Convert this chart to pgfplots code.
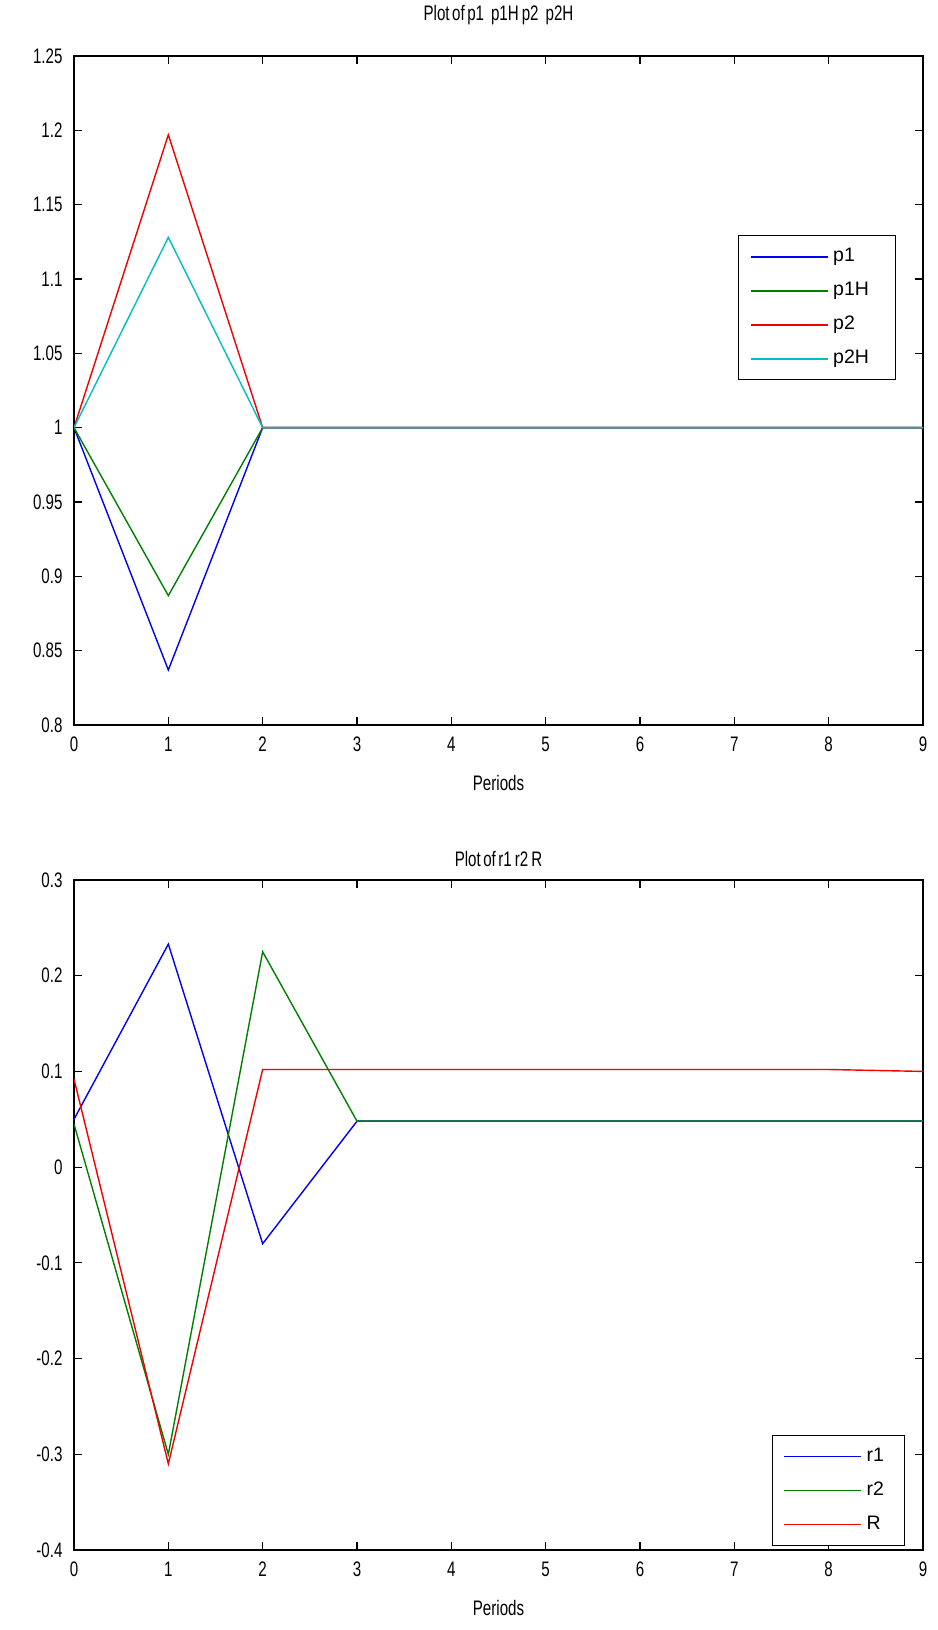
\documentclass[border=0pt]{standalone}
\usepackage{fontspec}
\setmainfont{Liberation Sans}[FakeStretch=0.72]
\newfontfamily\legfont{Liberation Sans}
\usepackage{pgfplots}
\pgfplotsset{compat=1.18}
\definecolor{mblue}{rgb}{0,0,0.95}
\definecolor{mgreen}{rgb}{0,0.5,0}
\definecolor{mred}{rgb}{0.95,0,0}
\definecolor{mcyan}{rgb}{0,0.75,0.75}
\newcommand{\fs}{\fontsize{21}{24}\selectfont}
\newcommand{\fl}{\legfont\fontsize{19.5}{22}\selectfont}
\newcommand{\lt}[1]{\makebox[51pt][l]{#1}}
\newcommand{\lb}[1]{\makebox[27pt][l]{#1}}
\pgfplotsset{
  mstyle/.style={
    scale only axis, width=849pt,
    xmin=0, xmax=9,
    xtick={0,1,2,3,4,5,6,7,8,9},
    xticklabels={0,1,2,3,4,5,6,7,8,9},
    tick align=inside, major tick length=8pt,
    axis line style={line width=1.3pt},
    tick style={line width=1.1pt, black},
    every axis plot/.append style={line width=1.4pt, mark=none},
    tick label style={font=\fs},
    xticklabel style={anchor=center, yshift=-19pt},
    yticklabel style={anchor=east, xshift=-8pt},
    label style={font=\fs},
    xlabel={Periods},
    xlabel style={at={(0.5,0)}, anchor=center, yshift=-58pt},
    title style={font=\fs, at={(0.5,1)}, anchor=center},
    legend cell align=left,
    legend image code/.code={\draw[#1] (0pt,0pt) -- (77pt,0pt);},
    legend style={font=\fl, draw=black, line width=1.2pt, fill=white,
      inner xsep=11pt, inner ysep=12pt, row sep=16pt,
      nodes={inner sep=0pt, text height=14pt, text depth=4pt},
      column sep=5pt},
  }
}
\begin{document}
\begin{tikzpicture}
\useasboundingbox (0,0) rectangle (937pt,1630pt);
\begin{axis}[mstyle, at={(74pt,905pt)}, anchor=south west, height=669pt,
  ymin=0.8, ymax=1.25,
  ytick={0.8,0.85,0.9,0.95,1,1.05,1.1,1.15,1.2,1.25},
  yticklabels={0.8,0.85,0.9,0.95,1,1.05,1.1,1.15,1.2,1.25},
  title={Plot\hspace{2.5pt}of\hspace{2.5pt}p1\hspace{7pt}p1H\hspace{3pt}p2\hspace{7pt}p2H},
  title style={yshift=35pt},
  legend style={at={(0.968,0.732)}, anchor=north east}]
\addplot[mblue] coordinates {(0,1)(1,0.837)(2,1)(3,1)(4,1)(5,1)(6,1)(7,1)(8,1)(9,1)};
\addplot[mgreen] coordinates {(0,1)(1,0.887)(2,1)(3,1)(4,1)(5,1)(6,1)(7,1)(8,1)(9,1)};
\addplot[mred] coordinates {(0,1)(1,1.197)(2,1)(3,1)(4,1)(5,1)(6,1)(7,1)(8,1)(9,1)};
\addplot[mcyan] coordinates {(0,1)(1,1.128)(2,1)(3,1)(4,1)(5,1)(6,1)(7,1)(8,1)(9,1)};
\legend{\lt{p1},\lt{p1H},\lt{p2},\lt{p2H}}
\end{axis}
\begin{axis}[mstyle, at={(74pt,80pt)}, anchor=south west, height=670pt,
  ymin=-0.4, ymax=0.3,
  ytick={-0.4,-0.3,-0.2,-0.1,0,0.1,0.2,0.3},
  yticklabels={-0.4,-0.3,-0.2,-0.1,0,0.1,0.2,0.3},
  title={Plot\hspace{2.5pt}of\hspace{2.5pt}r1\hspace{3pt}r2\hspace{3pt}R},
  title style={yshift=15pt},
  legend style={at={(0.979,0.006)}, anchor=south east}]
\addplot[mblue] coordinates {(0,0.05)(1,0.233)(2,-0.08)(3,0.048)(4,0.048)(5,0.048)(6,0.048)(7,0.048)(8,0.048)(9,0.048)};
\addplot[mgreen] coordinates {(0,0.045)(1,-0.30)(2,0.225)(3,0.048)(4,0.048)(5,0.048)(6,0.048)(7,0.048)(8,0.048)(9,0.048)};
\addplot[mred] coordinates {(0,0.092)(1,-0.31)(2,0.102)(3,0.102)(4,0.102)(5,0.102)(6,0.102)(7,0.102)(8,0.102)(9,0.100)};
\legend{\lb{r1},\lb{r2},\lb{R}}
\end{axis}
\end{tikzpicture}
\end{document}
